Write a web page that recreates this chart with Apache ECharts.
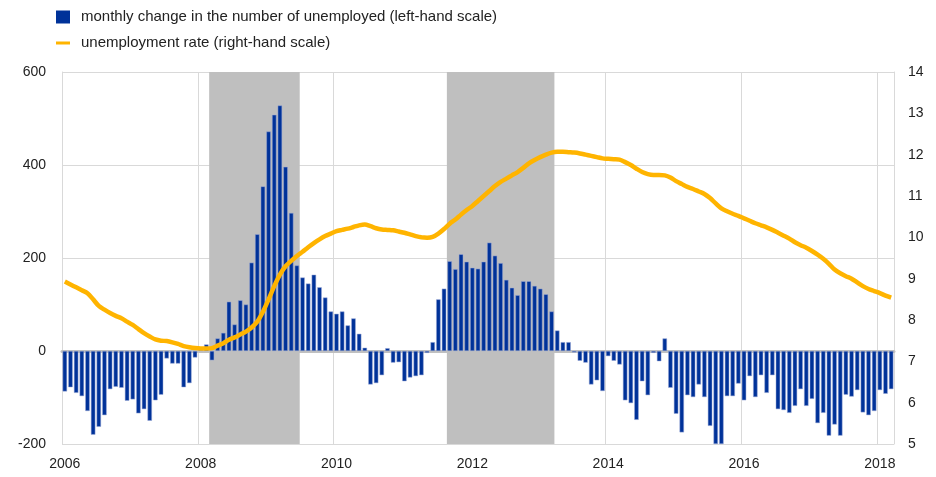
<!DOCTYPE html>
<html>
<head>
<meta charset="utf-8">
<script src="https://cdn.jsdelivr.net/npm/echarts@6/dist/echarts.min.js"></script>
<style>
  html, body { margin: 0; padding: 0; background: #fff; }
  #main { width: 936px; height: 477px; }
</style>
</head>
<body>
<div id="main"></div>
<script>
// monthly data, Jan 2006 - Mar 2018
const startYear = 2006

// monthly change in the number of unemployed (thousands, left-hand scale)
const unemployedChange = [
  -87, -78, -90, -97, -129, -180, -163, -138, -82, -77, -79, -107,     // 2006
  -104, -134, -125, -150, -106, -94, -16, -27, -27, -78, -69, -14,     // 2007
  2, 14, -20, 27, 39, 106, 57, 109, 100, 190, 251, 354,                // 2008
  472, 508, 528, 396, 297, 184, 158, 145, 164, 137, 115, 85,           // 2009
  80, 85, 55, 70, 37, 7, -72, -69, -52, 6, -25, -24,                   // 2010
  -65, -57, -54, -52, -4, 19, 111, 134, 193, 176, 208, 192,            // 2011
  179, 177, 192, 233, 205, 189, 153, 136, 120, 150, 150, 140,          // 2012
  134, 122, 85, 44, 19, 19, -3, -21, -25, -72, -63, -86,               // 2013
  -11, -21, -29, -106, -112, -148, -65, -95, -4, -22, 27, -79,         // 2014
  -135, -175, -95, -99, -72, -99, -161, -200, -200, -97, -97, -70,     // 2015
  -106, -54, -99, -52, -90, -52, -125, -127, -133, -118, -82, -118,    // 2016
  -103, -155, -133, -182, -158, -182, -94, -98, -84, -132, -138, -129, // 2017
  -84, -92, -82                                                        // 2018
]

// unemployment rate (%, right-hand scale)
const unemploymentRate = [
  8.93, 8.86, 8.79, 8.72, 8.65, 8.50, 8.34, 8.25, 8.17, 8.10, 8.04, 7.96,
  7.88, 7.78, 7.68, 7.60, 7.53, 7.50, 7.49, 7.46, 7.42, 7.37, 7.34, 7.32,
  7.31, 7.31, 7.32, 7.38, 7.44, 7.52, 7.58, 7.65, 7.72, 7.82, 7.96, 8.20,
  8.50, 8.82, 9.10, 9.30, 9.43, 9.55, 9.65, 9.76, 9.86, 9.95, 10.03, 10.09,
  10.15, 10.18, 10.21, 10.25, 10.29, 10.31, 10.27, 10.22, 10.19, 10.18, 10.17, 10.14,
  10.11, 10.07, 10.03, 10.00, 9.99, 10.01, 10.09, 10.20, 10.33, 10.43, 10.55, 10.66,
  10.76, 10.88, 11.00, 11.12, 11.24, 11.34, 11.42, 11.50, 11.58, 11.68, 11.79, 11.87,
  11.94, 12.00, 12.05, 12.07, 12.07, 12.06, 12.05, 12.03, 12.00, 11.97, 11.94, 11.91,
  11.90, 11.89, 11.88, 11.82, 11.75, 11.66, 11.58, 11.53, 11.51, 11.51, 11.50, 11.45,
  11.36, 11.29, 11.22, 11.17, 11.11, 11.05, 10.95, 10.82, 10.70, 10.63, 10.57, 10.52,
  10.46, 10.40, 10.34, 10.29, 10.24, 10.18, 10.11, 10.04, 9.97, 9.88, 9.81, 9.75,
  9.67, 9.58, 9.48, 9.36, 9.22, 9.13, 9.06, 9.00, 8.91, 8.82, 8.75, 8.70,
  8.65, 8.59, 8.54
]

// shaded periods (first and last month)
const recessions = [['2008-03', '2009-06'], ['2011-09', '2013-03']]

const leftTicks = { min: -200, max: 600, interval: 200 }
const rightTicks = { min: 5, max: 14, interval: 1 }

const barName = 'monthly change in the number of unemployed (left-hand scale)'
const lineName = 'unemployment rate (right-hand scale)'

// month categories
const months = []
for (let i = 0; i < unemployedChange.length; i++) {
  const y = startYear + Math.floor(i / 12)
  const m = (i % 12) + 1
  months.push(y + '-' + (m < 10 ? '0' + m : m))
}

const shadeAreas = recessions.map(r => [
  { xAxis: months.indexOf(r[0]) },
  { xAxis: months.indexOf(r[1]) + 1 }
])

const font = 'Liberation Sans, Arial, sans-serif'
const gridColor = '#d9d9d9'

const myChart = echarts.init(document.getElementById('main'))

const option = {
  animation: false,
  backgroundColor: '#fff',
  textStyle: { fontFamily: font },
  legend: {
    orient: 'vertical',
    left: 56,
    top: 9,
    padding: 0,
    itemGap: 10,
    itemWidth: 14,
    itemHeight: 13,
    textStyle: { fontSize: 15, color: '#222', fontFamily: font, lineHeight: 16, padding: [0, 0, 0, 6] },
    data: [
      { name: barName, icon: 'rect', itemStyle: { color: '#003299', borderWidth: 0 } },
      { name: lineName, icon: 'path://M0,0H14V3H0Z' }
    ]
  },
  grid: {
    left: 62,
    right: 42,
    top: 72,
    bottom: 33
  },
  xAxis: [
    {
      type: 'category',
      data: months,
      boundaryGap: true,
      axisLine: { show: true, lineStyle: { color: '#c0c0c0', width: 3 } },
      axisTick: { show: false },
      axisLabel: {
        interval: (index) => index % 24 === 0,
        formatter: (value) => value.slice(0, 4),
        color: '#222',
        fontSize: 14,
        margin: 13,
        fontFamily: font
      },
      splitLine: {
        show: true,
        interval: (index) => index % 24 === 0,
        lineStyle: { color: gridColor, width: 1 }
      }
    },
    {
      type: 'value',
      min: 0,
      max: months.length,
      show: false
    }
  ],
  yAxis: [
    {
      type: 'value',
      min: leftTicks.min,
      max: leftTicks.max,
      interval: leftTicks.interval,
      axisLine: { show: true, lineStyle: { color: gridColor, width: 1 } },
      axisTick: { show: false },
      axisLabel: { color: '#222', fontSize: 14, margin: 16, fontFamily: font },
      splitLine: { show: true, lineStyle: { color: gridColor, width: 1 } }
    },
    {
      type: 'value',
      min: rightTicks.min,
      max: rightTicks.max,
      interval: rightTicks.interval,
      position: 'right',
      axisLine: { show: true, lineStyle: { color: gridColor, width: 1 } },
      axisTick: { show: false },
      axisLabel: { color: '#222', fontSize: 14, margin: 14, fontFamily: font },
      splitLine: { show: false }
    }
  ],
  series: [
    {
      name: 'shade',
      type: 'line',
      xAxisIndex: 1,
      yAxisIndex: 0,
      data: [],
      silent: true,
      z: 1,
      markArea: {
        silent: true,
        itemStyle: { color: '#bfbfbf' },
        label: { show: false },
        data: shadeAreas
      }
    },
    {
      name: barName,
      type: 'bar',
      xAxisIndex: 0,
      yAxisIndex: 0,
      data: unemployedChange,
      barCategoryGap: '22%',
      z: 3,
      itemStyle: {
        color: '#003299',
        borderColor: '#9aa8d6',
        borderWidth: 0.5
      }
    },
    {
      name: lineName,
      type: 'line',
      xAxisIndex: 0,
      yAxisIndex: 1,
      data: unemploymentRate,
      smooth: 0.3,
      showSymbol: false,
      symbol: 'none',
      z: 4,
      itemStyle: { color: '#ffb400' },
      lineStyle: { color: '#ffb400', width: 4.5 }
    }
  ]
}

myChart.setOption(option)
</script>
</body>
</html>
